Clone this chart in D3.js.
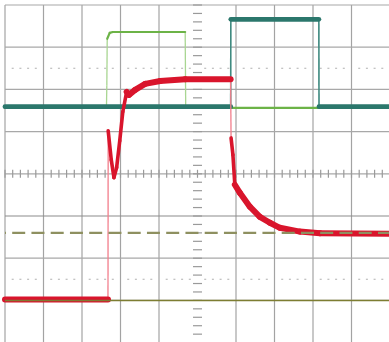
<!DOCTYPE html>
<html>
<head>
<meta charset="utf-8">
<script src="https://cdn.jsdelivr.net/npm/d3@7"></script>
<style>
  html, body { margin: 0; padding: 0; background: #fff; }
  svg { display: block; }
</style>
</head>
<body>
<svg id="scope"></svg>
<script>
// ===================================================================
// DATA - screen divisions (time: 0..10 div, volts: -4..4 div)
// ===================================================================
const timeDivs = d3.range(0, 11);
const voltDivs = d3.range(-4, 5);
const minorStep = 0.2;
const markerLevels = [2.5, -2.5];

// channel traces as [time div, level div]
const tealTrace = [[0, 1.59], [5.862, 1.59], [5.866, 3.66], [8.152, 3.66], [8.156, 1.59], [10, 1.59]];
const greenTrace = [[0, 1.56], [2.635, 1.56], [2.645, 2.1], [2.655, 3.2], [2.72, 3.34], [2.8, 3.36],
    [4.68, 3.36], [4.694, 1.56], [10, 1.56]];
const redTrace = [[0, -2.98], [2.675, -2.98], [2.68, 1.02], [2.76, 0.33], [2.83, -0.09], [2.9, 0.15],
    [2.98, 0.78], [3.06, 1.47], [3.16, 1.94], [3.22, 1.87], [3.38, 1.99], [3.64, 2.13], [4.03, 2.2],
    [4.68, 2.24], [5.86, 2.24], [5.872, 0.85], [5.92, 0.45], [5.97, -0.26], [6.1, -0.45], [6.36, -0.78],
    [6.62, -1.02], [6.88, -1.16], [7.14, -1.28], [7.66, -1.37], [8.18, -1.41], [10, -1.42]];
const refSolid = [[0, -3.0], [10, -3.0]];
const refDashed = [[0, -1.4], [10, -1.4]];
// ===================================================================

const width = 389, height = 342;
const svg = d3.select('#scope').attr('width', width).attr('height', height);

const x = d3.scaleLinear().domain([0, 10]).range([5, 390]);
const y = d3.scaleLinear().domain([-4, 4]).range([342.6, 5]);

const grid = svg.append('g');

// Graticule
grid.selectAll('line.v')
    .data(timeDivs.filter(d => d !== 5))
    .join('line')
    .attr('x1', d => x(d)).attr('x2', d => x(d))
    .attr('y1', y(4)).attr('y2', y(-4))
    .attr('stroke', '#a3a3a3').attr('stroke-width', 1.2);

grid.selectAll('line.h')
    .data(voltDivs)
    .join('line')
    .attr('x1', x(0)).attr('x2', x(10))
    .attr('y1', d => y(d)).attr('y2', d => y(d))
    .attr('stroke', d => d === -1 ? '#8c8c8c' : '#a8a8a8').attr('stroke-width', 1.2);

// Minor ticks on the centre axes
const minorT = d3.range(0, 10 + 1e-9, minorStep);
const minorV = d3.range(-4, 4 + 1e-9, minorStep);

grid.selectAll('line.tx')
    .data(minorT)
    .join('line')
    .attr('x1', d => x(d)).attr('x2', d => x(d))
    .attr('y1', y(0) - 4).attr('y2', y(0) + 4)
    .attr('stroke', '#9a9a9a').attr('stroke-width', 1.2);

grid.selectAll('line.ty')
    .data(minorV)
    .join('line')
    .attr('x1', x(5) - 4.5).attr('x2', x(5) + 4.5)
    .attr('y1', d => y(d)).attr('y2', d => y(d))
    .attr('stroke', '#9a9a9a').attr('stroke-width', 1.2);

// Dotted marker rows
markerLevels.forEach(level => {
    grid.selectAll(null)
        .data(minorT.filter(d => Math.abs(d - Math.round(d)) > 0.01))
        .join('rect')
        .attr('x', d => x(d) - 1).attr('y', y(level) - 0.6)
        .attr('width', 2).attr('height', 1.2)
        .attr('fill', '#bdbdbd');
});

// Trace drawing: steep edges thin, flat runs as a thick noisy band
function drawTrace(data, opts) {
    const g = svg.append('g');
    const segs = d3.pairs(data).map(([a, b]) => {
        const dx = Math.abs(x(b[0]) - x(a[0]));
        const dy = Math.abs(y(b[1]) - y(a[1]));
        const kind = dx < 1 ? 'edge' : (dy / dx > 3 ? 'steep' : 'flat');
        return { a, b, kind };
    });
    const order = { edge: 0, steep: 1, flat: 2 };
    segs.sort((p, q) => order[p.kind] - order[q.kind]);
    g.selectAll('line')
        .data(segs)
        .join('line')
        .attr('x1', d => x(d.a[0])).attr('y1', d => y(d.a[1]))
        .attr('x2', d => x(d.b[0])).attr('y2', d => y(d.b[1]))
        .attr('stroke', d => d.kind === 'edge' ? opts.edgeColor : opts.color)
        .attr('stroke-width', d => d.kind === 'edge' ? opts.thin : (d.kind === 'steep' ? opts.mid : opts.thick))
        .attr('stroke-linecap', d => d.kind === 'edge' ? 'butt' : 'round');
}

drawTrace(greenTrace, { color: '#6cb347', edgeColor: '#a9d692', thick: 2.2, mid: 1.6, thin: 1.3 });
drawTrace(tealTrace, { color: '#2b776c', edgeColor: '#3f8a80', thick: 4.8, mid: 2, thin: 1.6 });
drawTrace(redTrace, { color: '#d9152c', edgeColor: '#f27f8c', thick: 6, mid: 3.6, thin: 1.3 });

// Reference levels on top
const line = d3.line().x(d => x(d[0])).y(d => y(d[1]));

svg.append('path')
    .datum(refSolid)
    .attr('d', line)
    .attr('fill', 'none')
    .attr('stroke', '#7d7d32')
    .attr('stroke-width', 1.5);

svg.append('path')
    .datum(refDashed)
    .attr('d', line)
    .attr('fill', 'none')
    .attr('stroke', '#8e9060')
    .attr('stroke-width', 2.3)
    .attr('stroke-dasharray', '13 6.25')
    .attr('stroke-dashoffset', 12.05);
</script>
</body>
</html>
